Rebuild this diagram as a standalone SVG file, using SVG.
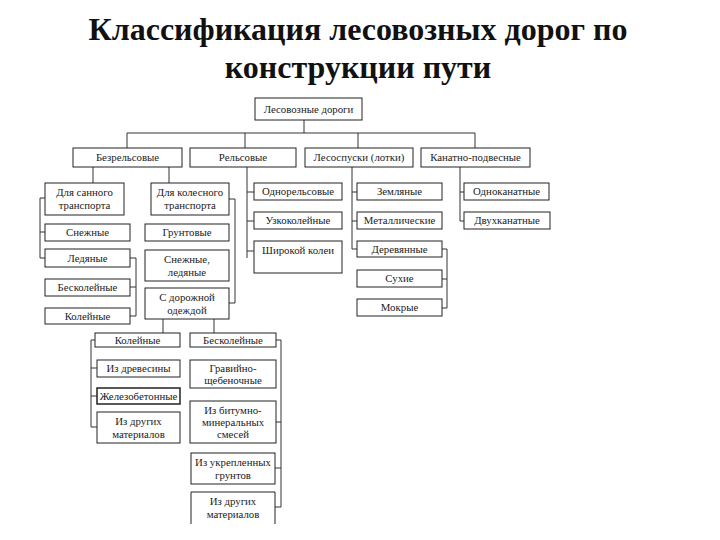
<svg xmlns="http://www.w3.org/2000/svg" width="720" height="540" viewBox="0 0 720 540">
<style>
.b{fill:#fff;stroke:#222;stroke-width:1}
.t{font-family:'Liberation Serif','DejaVu Serif',serif;font-size:10.8px;fill:#222;text-anchor:middle}
.c{fill:none;stroke:#333;stroke-width:1}
.h{font-family:'Liberation Serif','DejaVu Serif',serif;font-size:32px;font-weight:bold;fill:#111;text-anchor:middle}
</style>
<rect width="720" height="540" fill="#fff"/>
<text class="h" x="358" y="40">Классификация лесовозных дорог по</text>
<text class="h" x="358" y="78">конструкции пути</text>
<g id="connectors">
<path class="c" d="M304,120V133M127,133H475M127,133V148M245,133V148M358,133V148M475,133V148"/>
<path class="c" d="M93,167V183M169,167V183"/>
<path class="c" d="M45,198H40V258H45M40,232H45"/>
<path class="c" d="M130,258H136V316H130M136,287H130"/>
<path class="c" d="M229,199H235V303H229"/>
<path class="c" d="M163,319V333M214,319V333"/>
<path class="c" d="M95,340H91V427H97M91,368H97M91,396H97"/>
<path class="c" d="M276,340H281V507H275M281,422H276M281,468H275"/>
<path class="c" d="M247,167V258M247,192H254M247,221H254M247,251H254"/>
<path class="c" d="M352,167V249H357M352,192H357M352,221H357"/>
<path class="c" d="M442,249H447V308H442M447,279H442"/>
<path class="c" d="M460,167V221H464M460,192H464"/>
</g>
<g id="n_root"><rect class="b" x="255" y="98" width="107" height="22"/><text class="t" x="308.5" y="112.8">Лесовозные дороги</text></g>
<g id="n_bezrels"><rect class="b" x="73" y="148" width="109" height="19"/><text class="t" x="127.5" y="161.3">Безрельсовые</text></g>
<g id="n_rels"><rect class="b" x="190" y="148" width="106" height="19"/><text class="t" x="243" y="161.3">Рельсовые</text></g>
<g id="n_lesospusk"><rect class="b" x="305" y="148" width="108" height="19"/><text class="t" x="359" y="161.3">Лесоспуски (лотки)</text></g>
<g id="n_kanat"><rect class="b" x="421" y="148" width="109" height="19"/><text class="t" x="475.5" y="161.3">Канатно-подвесные</text></g>
<g id="n_sanny"><rect class="b" x="45" y="183" width="79" height="32"/><text class="t" x="84.5" y="196">Для санного</text><text class="t" x="84.5" y="208.5">транспорта</text></g>
<g id="n_kolesny"><rect class="b" x="151" y="183" width="78" height="32"/><text class="t" x="190" y="196">Для колесного</text><text class="t" x="190" y="208.5">транспорта</text></g>
<g id="n_snezh1"><rect class="b" x="45" y="224" width="85" height="17"/><text class="t" x="87.5" y="236.3">Снежные</text></g>
<g id="n_led"><rect class="b" x="45" y="249" width="85" height="18"/><text class="t" x="87.5" y="261.8">Ледяные</text></g>
<g id="n_beskol1"><rect class="b" x="45" y="279" width="85" height="17"/><text class="t" x="87.5" y="291.3">Бесколейные</text></g>
<g id="n_kol1"><rect class="b" x="45" y="308" width="85" height="16"/><text class="t" x="87.5" y="319.8">Колейные</text></g>
<g id="n_grunt"><rect class="b" x="145" y="224" width="84" height="17"/><text class="t" x="187" y="236.3">Грунтовые</text></g>
<g id="n_snezhled"><rect class="b" x="145" y="250" width="84" height="31"/><text class="t" x="187" y="263">Снежные,</text><text class="t" x="187" y="275.5">ледяные</text></g>
<g id="n_odezhda"><rect class="b" x="145" y="288" width="84" height="31"/><text class="t" x="187" y="301">С дорожной</text><text class="t" x="187" y="313.5">одеждой</text></g>
<g id="n_kol2"><rect class="b" x="95" y="333" width="85" height="14"/><text class="t" x="137.5" y="343.8">Колейные</text></g>
<g id="n_beskol2"><rect class="b" x="190" y="333" width="86" height="14"/><text class="t" x="233" y="343.8">Бесколейные</text></g>
<g id="n_drev"><rect class="b" x="97" y="360" width="83" height="17"/><text class="t" x="138.5" y="372.3">Из древесины</text></g>
<g id="n_zhb"><rect class="b" x="97" y="388" width="83" height="16" style="stroke-width:1.5"/><text class="t" x="138.5" y="399.8">Железобетонные</text></g>
<g id="n_drug1"><rect class="b" x="97" y="412" width="83" height="31"/><text class="t" x="138.5" y="425">Из других</text><text class="t" x="138.5" y="437.5">материалов</text></g>
<g id="n_grav"><rect class="b" x="190" y="360" width="86" height="28"/><text class="t" x="233" y="372">Гравийно-</text><text class="t" x="233" y="383.5">щебеночные</text></g>
<g id="n_bitum"><rect class="b" x="190" y="401" width="86" height="42"/><text class="t" x="233" y="414">Из битумно-</text><text class="t" x="233" y="425.8">минеральных</text><text class="t" x="233" y="437.5">смесей</text></g>
<g id="n_ukrepl"><rect class="b" x="191" y="453" width="84" height="31"/><text class="t" x="233" y="466">Из укрепленных</text><text class="t" x="233" y="478.5">грунтов</text></g>
<g id="n_drug2"><path class="b" d="M191,524V492H275V524"/><text class="t" x="233" y="505">Из других</text><text class="t" x="233" y="517.5">материалов</text></g>
<g id="n_odnorels"><rect class="b" x="254" y="183" width="88" height="17"/><text class="t" x="298" y="195.3">Однорельсовые</text></g>
<g id="n_uzkokol"><rect class="b" x="254" y="212" width="88" height="17"/><text class="t" x="298" y="224.3">Узкоколейные</text></g>
<g id="n_shirok"><rect class="b" x="254" y="241" width="88" height="32"/><text class="t" x="298" y="254.3">Широкой колеи</text></g>
<g id="n_zeml"><rect class="b" x="357" y="183" width="85" height="17"/><text class="t" x="399.5" y="195.3">Земляные</text></g>
<g id="n_metal"><rect class="b" x="357" y="212" width="85" height="17"/><text class="t" x="399.5" y="224.3">Металлические</text></g>
<g id="n_derev"><rect class="b" x="357" y="241" width="85" height="16"/><text class="t" x="399.5" y="252.8">Деревянные</text></g>
<g id="n_suh"><rect class="b" x="357" y="270" width="85" height="17"/><text class="t" x="399.5" y="282.3">Сухие</text></g>
<g id="n_mokr"><rect class="b" x="357" y="299" width="85" height="17"/><text class="t" x="399.5" y="311.3">Мокрые</text></g>
<g id="n_odnokan"><rect class="b" x="464" y="183" width="85" height="17"/><text class="t" x="506.5" y="195.3">Одноканатные</text></g>
<g id="n_dvuhkan"><rect class="b" x="464" y="212" width="86" height="17"/><text class="t" x="507" y="224.3">Двухканатные</text></g>
</svg>
